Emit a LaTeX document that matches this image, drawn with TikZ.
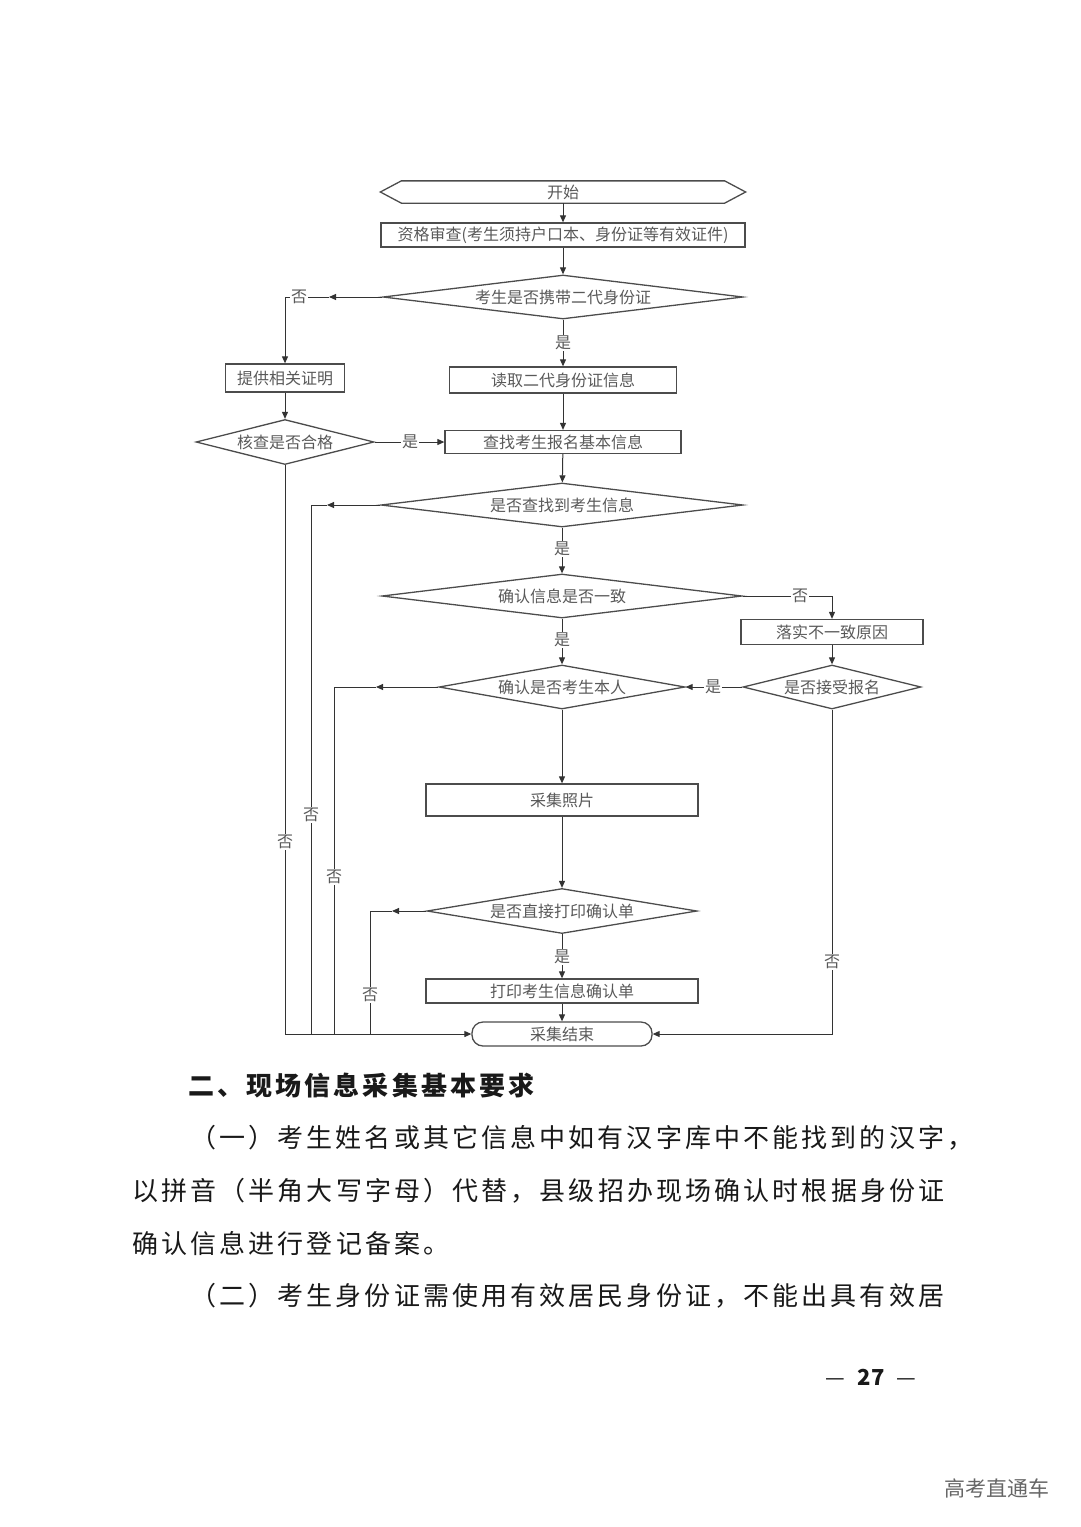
\documentclass[tikz,border=0pt]{standalone}
\usepackage{fontspec}
\usepackage{tikz}
\usetikzlibrary{arrows.meta,shapes.geometric}
\newfontfamily\cjk{Noto Sans CJK SC}
\newfontfamily\cjkbody[LetterSpace=12]{Noto Sans CJK SC}

\begin{document}
\begin{tikzpicture}[x=1pt,y=1pt,yscale=-1,
  box/.style={draw=black!70,line width=1.3pt,inner sep=0pt,text=black!65,font=\cjk\fontsize{16}{16}\selectfont},
  decision/.style={box,diamond,aspect=6},
  link/.style={draw=black!80,line width=1pt},
  arr/.style={link,-{Triangle[length=7pt,width=6pt]}},
  lbl/.style={fill=white,inner sep=1pt,text=black!65,font=\cjk\fontsize{16}{16}\selectfont},
  body/.style={anchor=west,inner sep=0pt,text=black!90,font=\cjkbody\fontsize{26}{26}\selectfont}]
\useasboundingbox (0,0) rectangle (1080,1527);

%main column
\node[box,draw=none,minimum width=364pt,minimum height=21pt] (start) at (563,192) {开始};
\draw[box] (start.west) -- ([xshift=21pt]start.north west) -- ([xshift=-21pt]start.north east) -- (start.east) -- ([xshift=-21pt]start.south east) -- ([xshift=21pt]start.south west) -- cycle;
\node[box,minimum width=364pt,minimum height=24pt] (check) at (563,235) {资格审查(考生须持户口本、身份证等有效证件)};
\node[decision,aspect=8,minimum width=360pt,minimum height=44pt] (q1) at (563,297) {考生是否携带二代身份证};
\node[box,minimum width=227pt,minimum height=26pt] (read) at (563,380) {读取二代身份证信息};
\node[box,minimum width=236pt,minimum height=23pt] (find) at (563,442) {查找考生报名基本信息};
\node[decision,aspect=8,minimum width=362pt,minimum height=44pt] (q3) at (562,505) {是否查找到考生信息};
\node[decision,aspect=8,minimum width=360pt,minimum height=44pt] (q4) at (562,596) {确认信息是否一致};
\node[decision,minimum width=246pt,minimum height=44pt] (q5) at (562,687) {确认是否考生本人};
\node[box,minimum width=272pt,minimum height=32pt] (photo) at (562,800) {采集照片};
\node[decision,minimum width=270pt,minimum height=45pt] (q7) at (562,911) {是否直接打印确认单};
\node[box,minimum width=272pt,minimum height=24pt] (print) at (562,991) {打印考生信息确认单};
\node[box,rounded corners=11pt,minimum width=180pt,minimum height=24pt] (end) at (562,1034) {采集结束};

%side columns
\node[box,minimum width=119pt,minimum height=28pt] (proof) at (285,378) {提供相关证明};
\node[decision,aspect=4,minimum width=178pt,minimum height=45pt] (q2) at (285,442) {核查是否合格};
\node[box,minimum width=182pt,minimum height=25pt] (cause) at (832,632) {落实不一致原因};
\node[decision,aspect=4,minimum width=178pt,minimum height=44pt] (q6) at (832,687) {是否接受报名};

\coordinate (a1) at (329,297);
\coordinate (a3) at (327,505);
\coordinate (l3) at (311,1034);
\coordinate (a5) at (376,687);
\coordinate (l5) at (334,1034);
\coordinate (a7) at (392,911);
\coordinate (l7) at (370,1034);

\draw[arr] (start) -- (check);
\draw[arr] (check) -- (q1);
\draw[arr] (q1) -- (read);
\draw[arr] (read) -- (find);
\draw[arr] (find) -- (q3);
\draw[arr] (q3) -- (q4);
\draw[arr] (q4) -- (q5);
\draw[arr] (q5) -- (photo);
\draw[arr] (photo) -- (q7);
\draw[arr] (q7) -- (print);
\draw[arr] (print) -- (end);
\draw[arr] (q1.west) -- (a1);
\draw[arr] (a1) -| (proof.north);
\draw[arr] (proof) -- (q2);
\draw[arr] (q2) -- (find);
\draw[arr] (q2.south) |- (end.west);
\draw[arr] (q3.west) -- (a3);
\draw[link] (a3) -| (l3);
\draw[arr] (q4.east) -| (cause.north);
\draw[arr] (cause) -- (q6);
\draw[arr] (q6) -- (q5);
\draw[arr] (q5.west) -- (a5);
\draw[link] (a5) -| (l5);
\draw[arr] (q7.west) -- (a7);
\draw[link] (a7) -| (l7);
\draw[arr] (q6.south) |- (end.east);

%labels
\node[lbl] (y1) at (563,343) {是};
\node[lbl] (n1) at (299,297) {否};
\node[lbl] (y2) at (410,442) {是};
\node[lbl] (n2) at (285,842) {否};
\node[lbl] (y3) at (562,549) {是};
\node[lbl] (n3) at (311,815) {否};
\node[lbl] (y4) at (562,640) {是};
\node[lbl] (n4) at (800,596) {否};
\node[lbl] (y6) at (713,687) {是};
\node[lbl] (n5) at (334,877) {否};
\node[lbl] (y7) at (562,957) {是};
\node[lbl] (n7) at (370,995) {否};
\node[lbl] (n6) at (832,962) {否};

%text below
\node[body,font=\cjkbody\bfseries\fontsize{26}{26}\selectfont] (head) at (188,1086) {二、现场信息采集基本要求};
\node[body] (p1) at (190,1138) {（一）考生姓名或其它信息中如有汉字库中不能找到的汉字，};
\node[body] (p2) at (132,1191) {以拼音（半角大写字母）代替，县级招办现场确认时根据身份证};
\node[body] (p3) at (132,1244) {确认信息进行登记备案。};
\node[body] (p4) at (190,1296) {（二）考生身份证需使用有效居民身份证，不能出具有效居};
\node[font=\cjk\fontsize{22}{22}\selectfont,text=black!90] (page) at (871,1377) {—\hspace{12pt}\textbf{27}\hspace{12pt}—};
\node[font=\cjk\fontsize{21}{21}\selectfont,text=black!60] (mark) at (997,1488) {高考直通车};
\end{tikzpicture}
\end{document}
